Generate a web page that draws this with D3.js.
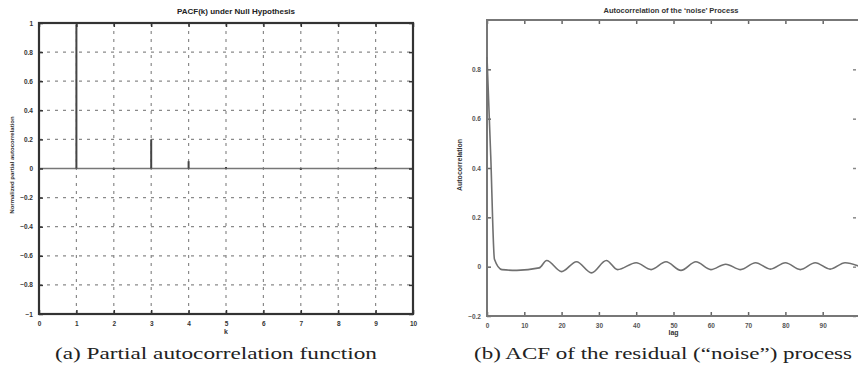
<!DOCTYPE html>
<html>
<head>
<meta charset="utf-8">
<script src="https://cdn.jsdelivr.net/npm/d3@7"></script>
<style>
  body { margin: 0; background: #fff; }
  svg { display: block; }
  .tick text { font-family: "Liberation Sans", sans-serif; font-weight: bold; }
</style>
</head>
<body>
<svg width="858" height="373"></svg>
<script>
// (a) partial autocorrelation, lags 0..10
const pacfLags = [0, 1, 2, 3, 4, 5, 6, 7, 8, 9, 10];
const pacfValues = [0, 0.99, -0.01, 0.2, 0.05, 0.01, 0.0, -0.01, 0.0, 0.01, 0.0];
const pacfYTicks = [-1, -0.8, -0.6, -0.4, -0.2, 0, 0.2, 0.4, 0.6, 0.8, 1];
const pacfXTicks = [0, 1, 2, 3, 4, 5, 6, 7, 8, 9, 10];

// (b) autocorrelation of the residual, lag 0..100
const acfLags = [0, 1, 2, 4, 8, 14, 16, 20, 24, 28, 32, 35, 40, 44, 48, 52, 56, 60, 64, 68, 72, 76, 80, 84, 88, 92, 96, 100];
const acfValues = [0.85, 0.45, 0.03, -0.012, -0.015, -0.005, 0.025, -0.02, 0.02, -0.025, 0.025, -0.012, 0.016, -0.012, 0.02, -0.015, 0.02, -0.012, 0.01, -0.012, 0.016, -0.01, 0.016, -0.012, 0.016, -0.01, 0.016, 0.0];
const acfYTicks = [-0.2, 0, 0.2, 0.4, 0.6, 0.8];
const acfXTicks = [0, 10, 20, 30, 40, 50, 60, 70, 80, 90, 100];

const svg = d3.select("svg");

// ---------- left panel ----------
const x1 = d3.scaleLinear().domain([0, 10]).range([39, 413]);
const y1 = d3.scaleLinear().domain([-1, 1]).range([314, 23]);

const left = svg.append("g");

// dotted grid
left.append("g").selectAll("line").data(pacfXTicks.slice(1, -1)).join("line")
  .attr("x1", d => x1(d)).attr("x2", d => x1(d))
  .attr("y1", y1(-1)).attr("y2", y1(1))
  .attr("stroke", "#8a8a8a").attr("stroke-width", 1.2).attr("stroke-dasharray", "3,5");
left.append("g").selectAll("line").data(pacfYTicks.slice(1, -1)).join("line")
  .attr("x1", x1(0)).attr("x2", x1(10))
  .attr("y1", d => y1(d)).attr("y2", d => y1(d))
  .attr("stroke", "#8a8a8a").attr("stroke-width", 1.2).attr("stroke-dasharray", "3,5");

// baseline
left.append("line")
  .attr("x1", x1(0)).attr("x2", x1(10)).attr("y1", y1(0)).attr("y2", y1(0))
  .attr("stroke", "#777").attr("stroke-width", 1.5);

// stems
left.append("g").selectAll("line").data(pacfLags).join("line")
  .attr("x1", d => x1(d)).attr("x2", d => x1(d))
  .attr("y1", y1(0)).attr("y2", (d, i) => y1(pacfValues[i]))
  .attr("stroke", "#444").attr("stroke-width", 2);

// axes, ticks inward
const styleAxis = (g, size) => {
  g.select(".domain").remove();
  g.selectAll(".tick line").attr("stroke", "#333").attr("stroke-width", 1.5);
  g.selectAll(".tick text").attr("font-size", size).attr("fill", "#333");
};
left.append("g").attr("transform", `translate(0,${y1(-1)})`)
  .call(d3.axisBottom(x1).tickValues(pacfXTicks).tickSize(-4).tickPadding(7).tickFormat(d3.format("d")))
  .call(g => styleAxis(g, 6.5));
left.append("g").attr("transform", `translate(${x1(0)},0)`)
  .call(d3.axisLeft(y1).tickValues(pacfYTicks).tickSize(-4).tickPadding(6).tickFormat(d => d3.format("")(+d.toFixed(1))))
  .call(g => styleAxis(g, 6.5));
left.append("g").attr("transform", `translate(0,${y1(1)})`)
  .call(d3.axisTop(x1).tickValues(pacfXTicks).tickSize(-4).tickFormat(""))
  .call(g => styleAxis(g, 6.5));
left.append("g").attr("transform", `translate(${x1(10)},0)`)
  .call(d3.axisRight(y1).tickValues(pacfYTicks).tickSize(-4).tickFormat(""))
  .call(g => styleAxis(g, 6.5));

left.append("rect")
  .attr("x", x1(0)).attr("y", y1(1))
  .attr("width", x1(10) - x1(0)).attr("height", y1(-1) - y1(1))
  .attr("fill", "none").attr("stroke", "#333").attr("stroke-width", 2.2);

left.append("text").attr("x", 236).attr("y", 14).attr("text-anchor", "middle")
  .attr("font-family", "Liberation Sans, sans-serif").attr("font-weight", "bold")
  .attr("font-size", 8).attr("fill", "#222")
  .text("PACF(k) under Null Hypothesis");
left.append("text").attr("x", x1(5)).attr("y", 334).attr("text-anchor", "middle")
  .attr("font-family", "Liberation Sans, sans-serif").attr("font-weight", "bold")
  .attr("font-size", 7).attr("fill", "#333").text("k");
left.append("text").attr("transform", "translate(14,165) rotate(-90)").attr("text-anchor", "middle")
  .attr("font-family", "Liberation Sans, sans-serif").attr("font-weight", "bold")
  .attr("font-size", 6).attr("fill", "#333").text("Normalized partial autocorrelation");

// ---------- right panel ----------
const x2 = d3.scaleLinear().domain([0, 100]).range([487, 860]);
const y2 = d3.scaleLinear().domain([-0.2, 1]).range([316, 20]);

const right = svg.append("g");

right.append("g").attr("transform", `translate(0,${y2(-0.2)})`)
  .call(d3.axisBottom(x2).tickValues(acfXTicks).tickSize(-4).tickPadding(7).tickFormat(d => d < 100 ? d : ""))
  .call(g => styleAxis(g, 6.5))
  .call(g => g.selectAll(".tick line").attr("stroke", "#666"))
  .call(g => g.selectAll(".tick text").attr("fill", "#555"));
right.append("g").attr("transform", `translate(${x2(0)},0)`)
  .call(d3.axisLeft(y2).tickValues(acfYTicks).tickSize(-4).tickPadding(6).tickFormat(d => d3.format("")(+d.toFixed(1))))
  .call(g => styleAxis(g, 6.5))
  .call(g => g.selectAll(".tick line").attr("stroke", "#666"))
  .call(g => g.selectAll(".tick text").attr("fill", "#555"));
right.append("g").attr("transform", `translate(0,${y2(1)})`)
  .call(d3.axisTop(x2).tickValues(acfXTicks).tickSize(-4).tickFormat(""))
  .call(g => styleAxis(g, 6.5))
  .call(g => g.selectAll(".tick line").attr("stroke", "#666"));
right.append("g").attr("transform", `translate(856,0)`)
  .call(d3.axisLeft(y2).tickValues(acfYTicks).tickSize(3).tickFormat(""))
  .call(g => styleAxis(g, 6.5))
  .call(g => g.selectAll(".tick line").attr("stroke", "#888"));

right.append("rect")
  .attr("x", x2(0)).attr("y", y2(1))
  .attr("width", x2(100) - x2(0)).attr("height", y2(-0.2) - y2(1))
  .attr("fill", "none").attr("stroke", "#777").attr("stroke-width", 2);

const line = d3.line().x((d, i) => x2(acfLags[i])).y(d => y2(d)).curve(d3.curveMonotoneX);
right.append("path").datum(acfValues)
  .attr("d", line).attr("fill", "none")
  .attr("stroke", "#707070").attr("stroke-width", 1.6);

right.append("text").attr("x", 671).attr("y", 13).attr("text-anchor", "middle")
  .attr("font-family", "Liberation Sans, sans-serif").attr("font-weight", "bold")
  .attr("font-size", 7.5).attr("fill", "#333")
  .text("Autocorrelation of the \u2018noise\u2019 Process");
right.append("text").attr("x", x2(50)).attr("y", 335).attr("text-anchor", "middle")
  .attr("font-family", "Liberation Sans, sans-serif").attr("font-weight", "bold")
  .attr("font-size", 7).attr("fill", "#333").text("lag");
right.append("text").attr("transform", "translate(462,165) rotate(-90)").attr("text-anchor", "middle")
  .attr("font-family", "Liberation Sans, sans-serif").attr("font-weight", "bold")
  .attr("font-size", 7).attr("fill", "#333").text("Autocorrelation");

// ---------- captions ----------
svg.append("text").attr("x", 55).attr("y", 359)
  .attr("font-family", "Liberation Serif, serif").attr("font-size", 17).attr("fill", "#222")
  .attr("textLength", 322).attr("lengthAdjust", "spacingAndGlyphs")
  .text("(a) Partial autocorrelation function");
svg.append("text").attr("x", 474).attr("y", 359)
  .attr("font-family", "Liberation Serif, serif").attr("font-size", 17).attr("fill", "#222")
  .attr("textLength", 378).attr("lengthAdjust", "spacingAndGlyphs")
  .text("(b) ACF of the residual (\u201cnoise\u201d) process");
</script>
</body>
</html>
